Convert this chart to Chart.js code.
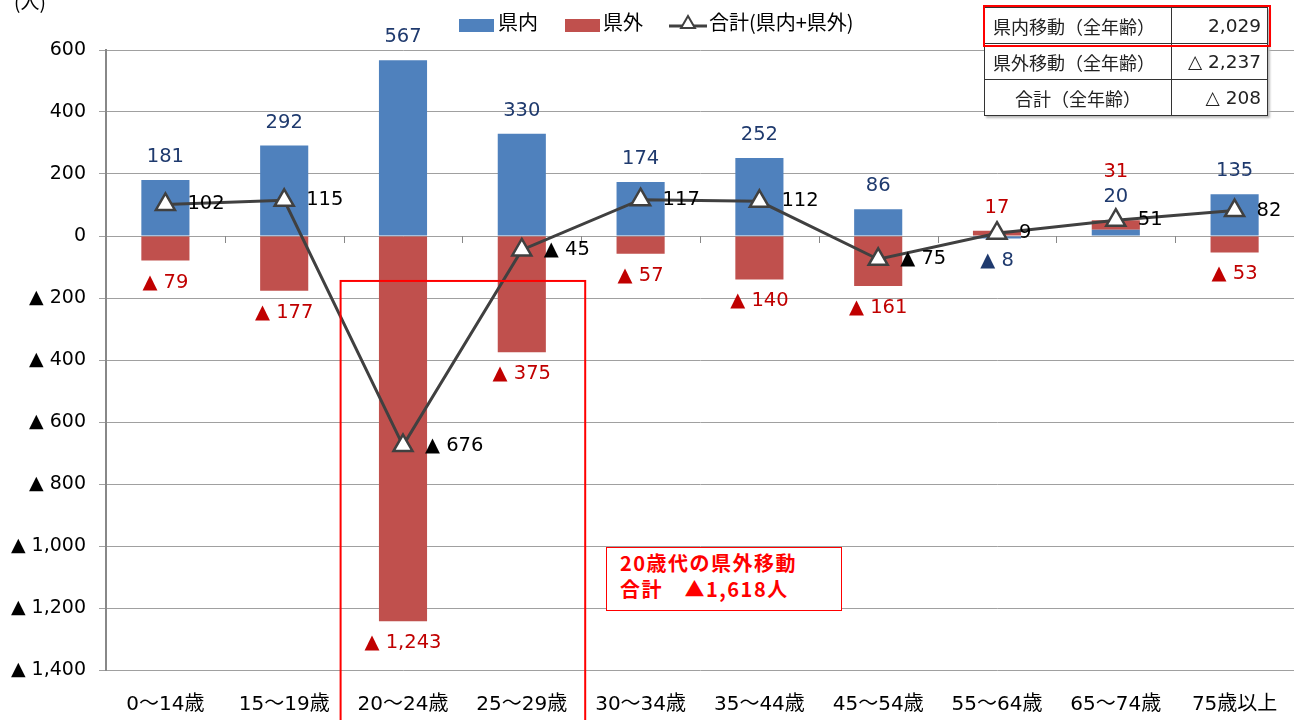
<!DOCTYPE html>
<html lang="ja">
<head>
<meta charset="utf-8">
<title>年齢別 県内・県外移動</title>
<script src="https://cdn.jsdelivr.net/npm/chart.js@4.4.1/dist/chart.umd.min.js"></script>
<style>
  html, body { margin: 0; padding: 0; background: #fff; }
  #wrap { position: relative; width: 1294px; height: 720px; overflow: hidden; }
  #wrap canvas { position: absolute; left: 0; top: 0; }
  .unit { position: absolute; left: 14px; top: -13px; font: 19px "Noto Sans CJK JP"; color: #000; }
  table.summary {
    position: absolute; left: 984px; top: 7px; border-collapse: collapse; background: #fff;
    font: 18px "Noto Sans CJK JP"; color: #222; table-layout: fixed;
    box-shadow: 2px 2px 2px #bbb;
  }
  table.summary td { border: 1.5px solid #333; height: 36px; padding: 0; line-height: 20px; white-space: nowrap; }
  table.summary td.k { width: 187px; padding-left: 8px; box-sizing: border-box; }
  table.summary td.c { text-align: center; padding-left: 0; }
  table.summary td.v { width: 96px; text-align: right; padding-right: 6px; box-sizing: border-box;
    font: 18.5px "DejaVu Sans", "Noto Sans CJK JP", sans-serif; }
  .hl { position: absolute; left: 983px; top: 5px; width: 284px; height: 38px; border: 2.5px solid #f00; }
  .note {
    position: absolute; left: 606px; top: 547px; width: 221px; height: 60px; padding: 2px 0 0 13px;
    border: 1.5px solid #f00; background: #fff; color: #f00;
    font: bold 20px "Noto Sans CJK JP"; line-height: 26px; letter-spacing: 1.5px;
  }
</style>
</head>
<body>
<div id="wrap">
  <canvas id="migrationChart" width="1294" height="720"></canvas>
  <div class="unit">(人)</div>
  <table class="summary">
    <tr><td class="k">県内移動（全年齢）</td><td class="v">2,029</td></tr>
    <tr><td class="k">県外移動（全年齢）</td><td class="v">△ 2,237</td></tr>
    <tr><td class="k c">合計（全年齢）</td><td class="v">△ 208</td></tr>
  </table>
  <div class="hl"></div>
  <div class="note">20歳代の県外移動<br>合計　▲1,618人</div>
</div>
<script>
// data
const categories = ['0～14歳', '15～19歳', '20～24歳', '25～29歳', '30～34歳', '35～44歳', '45～54歳', '55～64歳', '65～74歳', '75歳以上'];
const inPref = [181, 292, 567, 330, 174, 252, 86, -8, 20, 135];
const outPref = [-79, -177, -1243, -375, -57, -140, -161, 17, 31, -53];
const total = [102, 115, -676, -45, 117, 112, -75, 9, 51, 82];
const seriesNames = ['県内', '県外', '合計(県内+県外)'];
const yMin = -1400, yMax = 600, yStep = 200;

const BLUE = '#4F81BD', RED = '#C0504D', LINE = '#404040';
const NAVY = '#1F3A6E', LABEL_RED = '#C00000';
const FONT = '"DejaVu Sans", "Noto Sans CJK JP", sans-serif';
const JP_FONT = '"Noto Sans CJK JP", sans-serif';

function fmt(v) {
  return v < 0 ? '▲ ' + Math.abs(v).toLocaleString('en-US') : v.toLocaleString('en-US');
}

// value labels, zero-line ticks, highlight box and legend
const decorPlugin = {
  id: 'decor',
  beforeDatasetsDraw(chart) {
    const { ctx, chartArea } = chart;
    const y0 = chart.scales.y.getPixelForValue(0);
    const step = (chartArea.right - chartArea.left) / categories.length;
    ctx.save();
    ctx.strokeStyle = '#888';
    ctx.lineWidth = 1;
    for (let i = 0; i <= categories.length; i++) {
      const x = Math.round(chartArea.left + i * step) + 0.5;
      ctx.beginPath();
      ctx.moveTo(x, y0);
      ctx.lineTo(x, y0 + 7);
      ctx.stroke();
    }
    ctx.restore();
  },
  afterDatasetsDraw(chart) {
    const { ctx, chartArea } = chart;
    const y = chart.scales.y;
    const mIn = chart.getDatasetMeta(0);
    const mTot = chart.getDatasetMeta(2);
    ctx.save();
    ctx.font = '19.5px ' + FONT;
    ctx.textBaseline = 'middle';
    categories.forEach((c, i) => {
      const x = mIn.data[i].x;
      const pos = Math.max(inPref[i], 0) + Math.max(outPref[i], 0);
      const neg = Math.min(inPref[i], 0) + Math.min(outPref[i], 0);
      let up = y.getPixelForValue(pos) - 23;
      let down = y.getPixelForValue(neg) + 22;
      [[inPref[i], NAVY], [outPref[i], LABEL_RED]].forEach(([v, col]) => {
        ctx.fillStyle = col;
        ctx.textAlign = 'center';
        if (v >= 0) { ctx.fillText(fmt(v), x, up); up -= 25; }
        else { ctx.fillText(fmt(v), x, down); down += 25; }
      });
      const p = mTot.data[i];
      ctx.fillStyle = '#000';
      ctx.textAlign = 'left';
      ctx.fillText(fmt(total[i]), p.x + 22, p.y);
    });

    // red box round the 20s
    const step = (chartArea.right - chartArea.left) / categories.length;
    const bx1 = chartArea.left + 2 * step - 3;
    const bx2 = chartArea.left + 4 * step + 4;
    const by = y.getPixelForValue(-145);
    ctx.strokeStyle = '#FF0000';
    ctx.lineWidth = 2;
    ctx.strokeRect(bx1, by, bx2 - bx1, chart.height + 10 - by);
    ctx.restore();
  },
  afterDraw(chart) {
    const ctx = chart.ctx;
    ctx.save();
    ctx.font = '20px ' + JP_FONT;
    ctx.textBaseline = 'middle';
    ctx.textAlign = 'left';
    ctx.fillStyle = BLUE; ctx.fillRect(459, 19, 35, 13);
    ctx.fillStyle = '#000'; ctx.fillText(seriesNames[0], 498, 22);
    ctx.fillStyle = RED; ctx.fillRect(565, 19, 35, 13);
    ctx.fillStyle = '#000'; ctx.fillText(seriesNames[1], 603, 22);
    ctx.strokeStyle = LINE; ctx.lineWidth = 3;
    ctx.beginPath(); ctx.moveTo(669, 26); ctx.lineTo(707, 26); ctx.stroke();
    ctx.fillStyle = '#fff'; ctx.lineWidth = 2;
    Chart.helpers.drawPoint(ctx, { pointStyle: 'triangle', radius: 8, rotation: 0, borderWidth: 2 }, 688, 24);
    ctx.fillStyle = '#000'; ctx.fillText(seriesNames[2], 709, 22);
    ctx.restore();
  }
};

new Chart(document.getElementById('migrationChart'), {
  data: {
    labels: categories,
    datasets: [
      { type: 'bar', label: seriesNames[0], data: inPref, backgroundColor: BLUE, stack: 'pref', order: 1,
        barPercentage: 0.405, categoryPercentage: 1 },
      { type: 'bar', label: seriesNames[1], data: outPref, backgroundColor: RED, stack: 'pref', order: 1,
        barPercentage: 0.405, categoryPercentage: 1 },
      { type: 'line', label: seriesNames[2], data: total, stack: 'total', order: 0,
        borderColor: LINE, borderWidth: 3, tension: 0,
        pointStyle: 'triangle', pointRadius: 11, pointHoverRadius: 11,
        pointBackgroundColor: '#fff', pointBorderColor: LINE, pointBorderWidth: 2.5 }
    ]
  },
  options: {
    responsive: false,
    animation: false,
    layout: { autoPadding: false, padding: { top: 50, right: 0, bottom: 0, left: 0 } },
    plugins: {
      legend: { display: false },
      tooltip: { enabled: false }
    },
    scales: {
      x: {
        stacked: true,
        grid: { display: false, drawTicks: true, tickLength: 23 },
        border: { display: false },
        ticks: { font: { size: 20, family: FONT }, color: '#000', padding: 0, maxRotation: 0 },
        afterFit(scale) { scale.height = 50; }
      },
      y: {
        stacked: true,
        min: yMin, max: yMax,
        ticks: { stepSize: yStep, font: { size: 19, family: FONT }, color: '#000', padding: 13,
          callback: v => fmt(v) },
        grid: { color: '#A0A0A0', lineWidth: 1, tickLength: 7, tickColor: '#A0A0A0' },
        border: { color: '#888', width: 2 },
        afterFit(scale) { scale.width = 106; }
      }
    }
  },
  plugins: [decorPlugin]
});
</script>
</body>
</html>
